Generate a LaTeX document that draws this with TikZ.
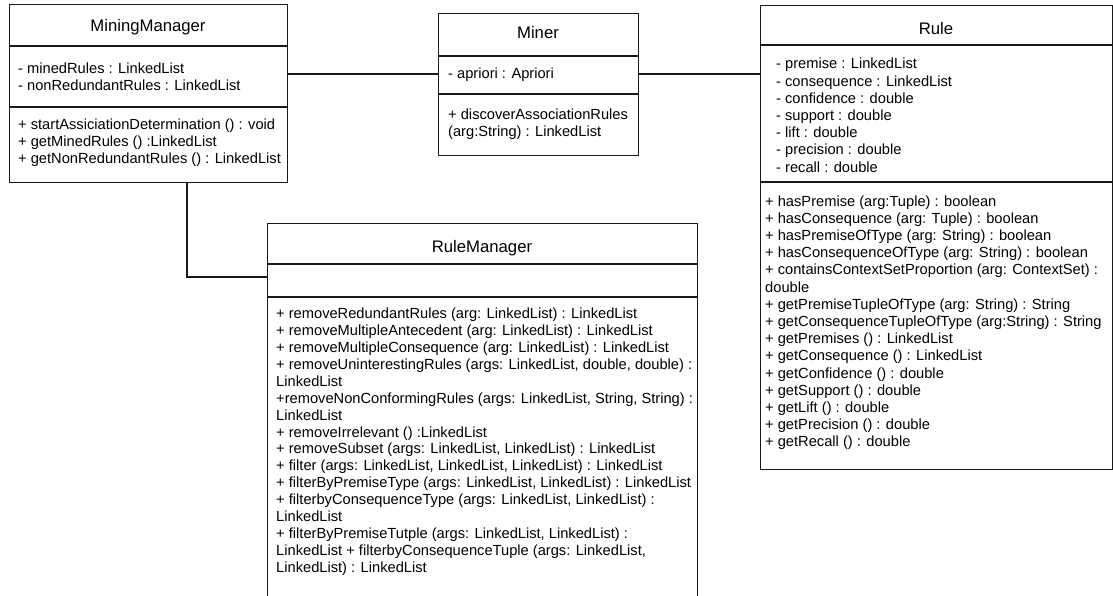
\documentclass[tikz,border=0pt]{standalone}
\usepackage{fontspec}
\setmainfont{Liberation Sans}
\begin{document}
\begin{tikzpicture}[x=1pt,y=-1pt,
  classbox/.style={draw=black!90, line width=1.3pt, fill=white, inner sep=0pt, anchor=north west},
  sepline/.style={draw=black!90, line width=1.3pt},
  conn/.style={draw=black!90, line width=1.3pt},
  clsname/.style={font=\fontsize{16.7}{20}\selectfont, anchor=base, inner sep=0pt},
  members/.style={font=\fontsize{14.67}{17.2}\selectfont, align=left, anchor=base west, inner sep=0pt},
  rmmembers/.style={members, font=\fontsize{14.67}{16.87}\selectfont},
  mmmembers/.style={members, font=\fontsize{14.67}{17}\selectfont}]
\useasboundingbox (0,0) rectangle (1113,596);
\fill[white] (0,0) rectangle (1113,596);
\clip (0,0) rectangle (1113,596);

% class boxes
\node[classbox, minimum width=278pt, minimum height=178pt] (mm) at (9,4) {};
\node[classbox, minimum width=200pt, minimum height=142pt] (miner) at (438,13) {};
\node[classbox, minimum width=352pt, minimum height=464pt] (rule) at (760,5) {};
\node[classbox, minimum width=430pt, minimum height=400pt] (rm) at (267,223) {};

% compartment separators
\draw[sepline] (mm.west |- 0,46) -- (mm.east |- 0,46);
\draw[sepline] (mm.west |- 0,107) -- (mm.east |- 0,107);
\draw[sepline] (miner.west |- 0,56) -- (miner.east |- 0,56);
\draw[sepline] (miner.west |- 0,94) -- (miner.east |- 0,94);
\draw[sepline] (rule.west |- 0,45) -- (rule.east |- 0,45);
\draw[sepline] (rule.west |- 0,182) -- (rule.east |- 0,182);
\draw[sepline] (rm.west |- 0,264) -- (rm.east |- 0,264);
\draw[sepline] (rm.west |- 0,297) -- (rm.east |- 0,297);

% associations
\coordinate (j1) at (0,74);
\coordinate (j2) at (187,277);
\draw[conn] (mm.east |- j1) -- (miner.west |- j1);
\draw[conn] (miner.east |- j1) -- (rule.west |- j1);
\draw[conn] (mm.south -| j2) -- (j2) -- (rm.west |- j2);

% member lists are placed by the baseline of their last line
% MiningManager
\node[clsname] (mmname) at (148,32) {MiningManager};
\node[mmmembers] (mmattr) at (18,91) {- minedRules : LinkedList\\- nonRedundantRules : LinkedList};
\node[mmmembers] (mmops) at (18,164) {+ startAssiciationDetermination () : void\\+ getMinedRules () :LinkedList\\+ getNonRedundantRules () : LinkedList};

% Miner
\node[clsname] (minername) at (538,39) {Miner};
\node[mmmembers] (minerattr) at (448,79) {- apriori : Apriori};
\node[mmmembers] (minerops) at (448,137) {+ discoverAssociationRules\\(arg:String) : LinkedList};

% Rule
\node[clsname] (rulename) at (936,35) {Rule};
\node[members] (ruleattr) at (776,172.2) {- premise : LinkedList\\- consequence : LinkedList\\- confidence : double\\- support : double\\- lift : double\\- precision : double\\- recall : double};
\node[members] (ruleops) at (765,446.8) {+ hasPremise (arg:Tuple) : boolean\\+ hasConsequence (arg: Tuple) : boolean\\+ hasPremiseOfType (arg: String) : boolean\\+ hasConsequenceOfType (arg: String) : boolean\\+ containsContextSetProportion (arg: ContextSet) :\\double\\+ getPremiseTupleOfType (arg: String) : String\\+ getConsequenceTupleOfType (arg:String) : String\\+ getPremises () : LinkedList\\+ getConsequence () : LinkedList\\+ getConfidence () : double\\+ getSupport () : double\\+ getLift () : double\\+ getPrecision () : double\\+ getRecall () : double};

% RuleManager
\node[clsname] (rmname) at (482,252) {RuleManager};
\node[rmmembers] (rmops) at (276,572) {+ removeRedundantRules (arg: LinkedList) : LinkedList\\+ removeMultipleAntecedent (arg: LinkedList) : LinkedList\\+ removeMultipleConsequence (arg: LinkedList) : LinkedList\\+ removeUninterestingRules (args: LinkedList, double, double) :\\LinkedList\\+removeNonConformingRules (args: LinkedList, String, String) :\\LinkedList\\+ removeIrrelevant () :LinkedList\\+ removeSubset (args: LinkedList, LinkedList) : LinkedList\\+ filter (args: LinkedList, LinkedList, LinkedList) : LinkedList\\+ filterByPremiseType (args: LinkedList, LinkedList) : LinkedList\\+ filterbyConsequenceType (args: LinkedList, LinkedList) :\\LinkedList\\+ filterByPremiseTutple (args: LinkedList, LinkedList) :\\LinkedList + filterbyConsequenceTuple (args: LinkedList,\\LinkedList) : LinkedList};
\end{tikzpicture}
\end{document}
